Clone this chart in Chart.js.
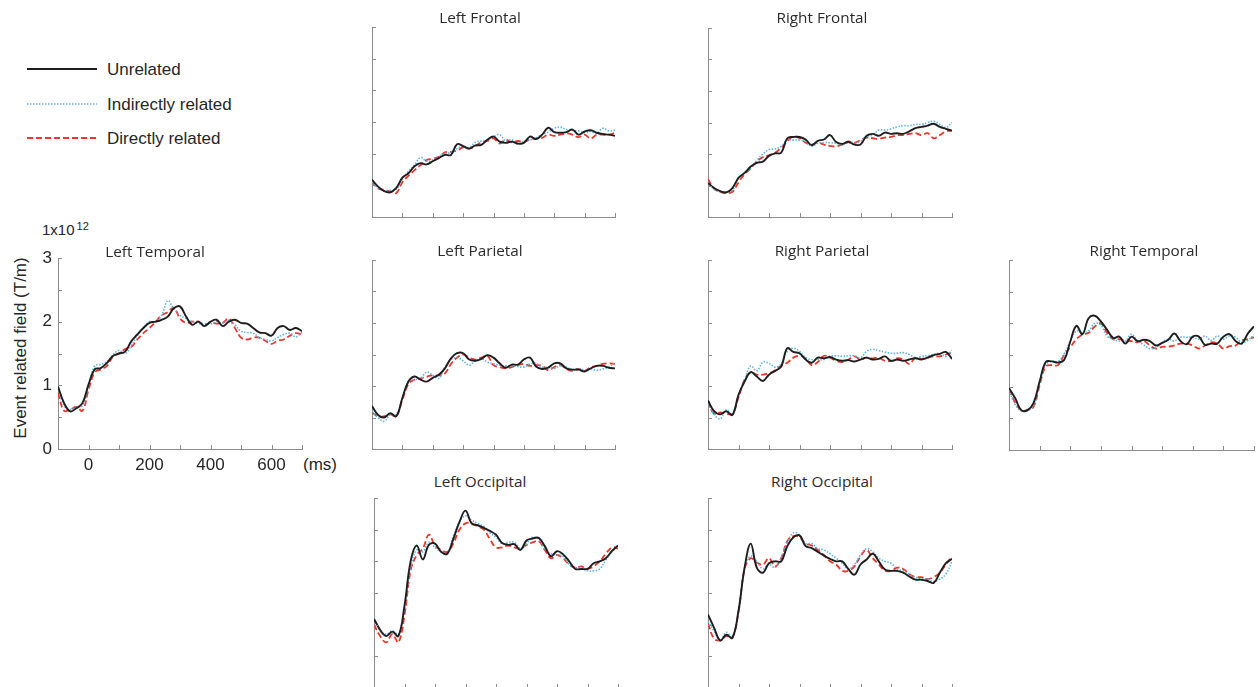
<!DOCTYPE html>
<html>
<head>
<meta charset="utf-8">
<title>Event related field by region</title>
<script src="https://cdn.jsdelivr.net/npm/chart.js@4.4.1/dist/chart.umd.min.js"></script>
<style>
  html, body { margin: 0; padding: 0; background: #fff; }
  body { position: relative; width: 1258px; height: 687px; overflow: hidden;
         font-family: "Liberation Sans", Arial, sans-serif; color: #262626; }
  canvas { position: absolute; }
  .txt { position: absolute; white-space: nowrap; line-height: 1; }
  .title { font-family: "Open Sans", sans-serif; font-size: 15.3px; color: #2b2b2b;
           transform: translate(-50%, -50%); }
  .legend-text { font-size: 17px; transform: translateY(-50%); }
  .legend-line { position: absolute; }
</style>
</head>
<body>
<div class="txt" style="left:42px;top:222px;font-size:15px">1x10<span style="font-size:11px;position:relative;top:-5px;margin-left:2px">12</span></div>
<div class="txt" style="left:20px;top:348px;font-size:17px;transform:translate(-50%,-50%) rotate(-90deg)">Event related field (T/m)</div>
<div class="txt" style="left:303px;top:456px;font-size:17px">(ms)</div>

<script>
// time axis (ms), shared by every panel
const timesMs = [-100, -80, -60, -40, -20, 0, 20, 40, 60, 80, 100, 120, 140, 160, 180, 200, 220, 240, 260, 280,
                 300, 320, 340, 360, 380, 400, 420, 440, 460, 480, 500, 520, 540, 560, 580, 600, 620, 640, 660, 680, 700];

const conditions = ['Unrelated', 'Indirectly related', 'Directly related'];
const xTickLabels = [0, 200, 400, 600];
const yTickLabels = [0, 1, 2, 3];

// values in 1x10^12 T/m
const leftFrontalUnrelated = [0.59,0.48,0.41,0.39,0.46,0.62,0.69,0.80,0.85,0.83,0.88,0.93,0.98,0.98,1.15,1.12,1.08,1.13,1.14,1.22,1.27,1.19,1.17,1.19,1.16,1.17,1.27,1.23,1.30,1.41,1.34,1.33,1.34,1.38,1.30,1.35,1.37,1.33,1.31,1.30,1.28];
const leftFrontalIndirect  = [0.56,0.46,0.41,0.42,0.44,0.60,0.72,0.82,0.94,0.88,0.90,0.96,1.00,1.02,1.08,1.12,1.10,1.18,1.20,1.22,1.27,1.30,1.20,1.22,1.15,1.20,1.22,1.25,1.30,1.34,1.40,1.42,1.38,1.37,1.36,1.33,1.35,1.32,1.40,1.36,1.37];
const leftFrontalDirect    = [0.56,0.45,0.43,0.40,0.38,0.55,0.65,0.74,0.82,0.90,0.92,0.95,1.02,1.03,1.05,1.10,1.08,1.12,1.18,1.20,1.24,1.16,1.22,1.18,1.20,1.19,1.22,1.24,1.25,1.30,1.28,1.30,1.32,1.30,1.26,1.30,1.24,1.30,1.30,1.30,1.33];

const rightFrontalUnrelated = [0.54,0.46,0.41,0.39,0.46,0.62,0.70,0.80,0.86,0.88,0.97,1.01,1.02,1.25,1.27,1.27,1.23,1.14,1.21,1.23,1.30,1.19,1.16,1.19,1.15,1.15,1.29,1.32,1.29,1.34,1.32,1.33,1.32,1.36,1.41,1.43,1.45,1.48,1.43,1.40,1.37];
const rightFrontalIndirect  = [0.55,0.44,0.40,0.40,0.42,0.62,0.70,0.78,0.90,1.00,1.07,1.08,1.12,1.22,1.22,1.22,1.20,1.12,1.17,1.18,1.18,1.17,1.15,1.18,1.17,1.20,1.28,1.30,1.38,1.38,1.40,1.43,1.45,1.45,1.47,1.47,1.50,1.52,1.47,1.42,1.50];
const rightFrontalDirect    = [0.60,0.45,0.40,0.38,0.40,0.55,0.68,0.77,0.88,0.95,0.98,1.02,1.10,1.20,1.28,1.25,1.18,1.15,1.18,1.15,1.13,1.12,1.15,1.20,1.18,1.22,1.26,1.25,1.24,1.26,1.27,1.30,1.30,1.32,1.33,1.30,1.33,1.25,1.30,1.36,1.37];

const leftTemporalUnrelated = [0.98,0.72,0.59,0.64,0.72,1.01,1.25,1.27,1.35,1.46,1.50,1.53,1.69,1.80,1.90,1.98,2.00,2.03,2.08,2.21,2.24,2.08,1.95,2.00,1.93,2.00,2.03,1.93,2.00,2.03,1.98,1.97,1.90,1.83,1.82,1.78,1.90,1.93,1.87,1.90,1.85];
const leftTemporalIndirect  = [0.98,0.68,0.62,0.66,0.68,1.00,1.30,1.33,1.37,1.48,1.55,1.50,1.62,1.78,1.90,2.00,2.00,2.10,2.33,2.20,2.10,2.05,2.00,1.97,1.97,1.96,2.00,1.98,2.02,1.95,1.85,1.83,1.82,1.75,1.72,1.70,1.75,1.80,1.82,1.76,1.83];
const leftTemporalDirect    = [0.88,0.60,0.62,0.66,0.60,0.93,1.20,1.25,1.30,1.45,1.50,1.57,1.60,1.72,1.82,1.90,2.00,2.10,2.15,2.22,2.05,1.98,2.00,2.00,1.95,1.98,1.97,1.98,2.05,1.90,1.75,1.72,1.75,1.75,1.70,1.65,1.70,1.72,1.78,1.82,1.80];

const leftParietalUnrelated = [0.68,0.54,0.50,0.57,0.52,0.81,1.07,1.15,1.10,1.07,1.13,1.18,1.28,1.44,1.52,1.52,1.42,1.40,1.43,1.49,1.45,1.36,1.29,1.34,1.34,1.42,1.45,1.31,1.27,1.29,1.36,1.36,1.28,1.26,1.26,1.23,1.28,1.32,1.32,1.29,1.28];
const leftParietalIndirect  = [0.60,0.50,0.44,0.55,0.55,0.80,1.08,1.10,1.12,1.22,1.17,1.12,1.30,1.42,1.45,1.40,1.33,1.40,1.43,1.38,1.35,1.33,1.32,1.32,1.31,1.30,1.35,1.36,1.30,1.30,1.28,1.32,1.30,1.25,1.28,1.25,1.27,1.25,1.27,1.30,1.38];
const leftParietalDirect    = [0.58,0.52,0.52,0.55,0.52,0.78,1.03,1.10,1.12,1.15,1.17,1.17,1.20,1.35,1.45,1.50,1.45,1.42,1.45,1.48,1.33,1.30,1.28,1.30,1.33,1.35,1.32,1.33,1.32,1.25,1.30,1.33,1.27,1.24,1.27,1.24,1.30,1.32,1.35,1.36,1.35];

const rightParietalUnrelated = [0.77,0.60,0.55,0.60,0.54,0.86,1.07,1.22,1.15,1.08,1.18,1.24,1.31,1.60,1.54,1.52,1.42,1.37,1.45,1.44,1.46,1.42,1.40,1.41,1.39,1.42,1.45,1.42,1.43,1.47,1.40,1.42,1.40,1.42,1.44,1.42,1.45,1.49,1.51,1.54,1.43];
const rightParietalIndirect  = [0.72,0.55,0.48,0.62,0.55,0.85,1.10,1.32,1.24,1.38,1.36,1.30,1.35,1.55,1.60,1.55,1.45,1.42,1.42,1.42,1.47,1.48,1.47,1.48,1.48,1.45,1.55,1.58,1.56,1.54,1.52,1.52,1.53,1.50,1.45,1.47,1.48,1.50,1.52,1.47,1.57];
const rightParietalDirect    = [0.75,0.56,0.58,0.56,0.56,0.82,1.10,1.22,1.18,1.18,1.20,1.25,1.32,1.37,1.45,1.48,1.44,1.33,1.38,1.48,1.45,1.40,1.38,1.42,1.47,1.42,1.45,1.44,1.45,1.40,1.40,1.44,1.42,1.35,1.45,1.43,1.45,1.47,1.47,1.50,1.53];

const rightTemporalUnrelated = [0.98,0.82,0.63,0.63,0.74,1.08,1.39,1.40,1.38,1.42,1.71,1.96,1.83,2.08,2.12,2.03,1.90,1.77,1.79,1.68,1.79,1.72,1.74,1.72,1.65,1.69,1.74,1.84,1.72,1.67,1.79,1.79,1.66,1.68,1.68,1.79,1.83,1.72,1.68,1.84,1.95];
const rightTemporalIndirect  = [0.95,0.72,0.62,0.62,0.70,1.05,1.35,1.40,1.40,1.52,1.72,1.88,1.85,1.88,2.00,1.97,1.80,1.75,1.72,1.72,1.83,1.72,1.66,1.60,1.62,1.70,1.75,1.72,1.78,1.78,1.78,1.75,1.80,1.73,1.80,1.75,1.80,1.78,1.70,1.73,1.82];
const rightTemporalDirect    = [0.96,0.75,0.63,0.63,0.68,1.02,1.32,1.34,1.34,1.50,1.62,1.75,1.82,1.85,1.95,2.00,1.85,1.75,1.75,1.73,1.72,1.70,1.72,1.65,1.60,1.63,1.63,1.65,1.68,1.68,1.65,1.60,1.65,1.70,1.68,1.60,1.64,1.65,1.73,1.75,1.78];

const leftOccipitalUnrelated = [1.09,0.92,0.82,0.89,0.82,1.30,2.00,2.25,2.03,2.26,2.28,2.15,2.12,2.35,2.62,2.80,2.60,2.57,2.53,2.48,2.42,2.29,2.26,2.27,2.18,2.33,2.36,2.37,2.24,2.08,2.16,2.11,2.00,1.88,1.88,1.88,1.97,2.00,2.05,2.16,2.25];
const leftOccipitalIndirect  = [1.12,0.90,0.85,0.90,0.85,1.25,1.90,2.18,2.15,2.30,2.22,2.15,2.12,2.40,2.62,2.72,2.65,2.60,2.55,2.45,2.38,2.28,2.30,2.30,2.20,2.28,2.38,2.35,2.20,2.12,2.10,2.08,1.95,1.90,1.90,1.85,1.85,1.88,2.02,2.15,2.25];
const leftOccipitalDirect    = [1.00,0.82,0.72,0.85,0.72,1.15,1.85,2.10,2.20,2.42,2.25,2.18,2.15,2.28,2.50,2.60,2.60,2.55,2.50,2.35,2.22,2.22,2.25,2.22,2.20,2.26,2.30,2.32,2.18,2.05,2.10,2.05,1.95,1.90,1.92,1.88,1.92,2.00,2.12,2.22,2.20];

const rightOccipitalUnrelated = [1.16,0.95,0.75,0.84,0.79,1.22,1.90,2.28,1.90,1.82,1.97,2.00,2.00,2.24,2.38,2.41,2.24,2.21,2.15,2.09,2.04,2.00,2.00,1.88,1.79,1.95,2.03,2.12,2.00,1.87,1.85,1.85,1.82,1.76,1.71,1.71,1.69,1.66,1.82,1.97,2.04];
const rightOccipitalIndirect  = [1.05,0.90,0.75,0.88,0.80,1.20,1.90,2.08,2.00,1.88,1.95,1.90,2.05,2.30,2.45,2.42,2.28,2.28,2.20,2.18,2.12,2.05,1.97,1.88,1.95,2.10,2.20,2.15,2.05,2.00,1.97,1.88,1.85,1.80,1.75,1.72,1.72,1.68,1.72,1.80,2.00];
const rightOccipitalDirect    = [1.02,0.78,0.75,0.82,0.80,1.20,1.88,2.05,1.98,1.95,2.05,1.92,2.05,2.32,2.40,2.38,2.28,2.25,2.18,2.10,2.00,1.95,1.85,1.85,1.92,2.08,2.18,2.05,1.95,1.85,1.85,1.90,1.88,1.80,1.75,1.75,1.72,1.75,1.82,1.95,2.08];

// line look for each condition (same order as conditions)
const lineStyles = [
  { color: '#1e1e1e', width: 1.9, dash: [] },
  { color: '#62b2e2', width: 1.6, dash: [1.5, 1.5] },
  { color: '#e8382c', width: 1.8, dash: [6, 3] }
];
const axisColor = '#8c8c8c';
const tickLen = 4;

// plot area boxes in page pixels
const panels = [
  { title: 'Left Frontal',    box: [372, 27, 243, 190],  titleAt: [480, 18],    series: [leftFrontalUnrelated, leftFrontalIndirect, leftFrontalDirect] },
  { title: 'Right Frontal',   box: [708, 28, 244, 189],  titleAt: [822, 18],    series: [rightFrontalUnrelated, rightFrontalIndirect, rightFrontalDirect] },
  { title: 'Left Temporal',   box: [58, 258, 244, 191],  titleAt: [155, 252],   series: [leftTemporalUnrelated, leftTemporalIndirect, leftTemporalDirect], labelled: true },
  { title: 'Left Parietal',   box: [372, 260, 243, 189], titleAt: [480, 251],   series: [leftParietalUnrelated, leftParietalIndirect, leftParietalDirect] },
  { title: 'Right Parietal',  box: [708, 260, 244, 189], titleAt: [822, 251],   series: [rightParietalUnrelated, rightParietalIndirect, rightParietalDirect] },
  { title: 'Right Temporal',  box: [1009, 260, 245, 190], titleAt: [1144, 251], series: [rightTemporalUnrelated, rightTemporalIndirect, rightTemporalDirect] },
  { title: 'Left Occipital',  box: [374, 498, 244, 190], titleAt: [480, 482],   series: [leftOccipitalUnrelated, leftOccipitalIndirect, leftOccipitalDirect] },
  { title: 'Right Occipital', box: [708, 498, 244, 190], titleAt: [822, 482],   series: [rightOccipitalUnrelated, rightOccipitalIndirect, rightOccipitalDirect] }
];

// MATLAB style ticks pointing into the plot
const inwardTicks = {
  id: 'inwardTicks',
  afterDraw(chart) {
    const { ctx, chartArea, scales } = chart;
    ctx.save();
    ctx.strokeStyle = axisColor;
    ctx.lineWidth = 1;
    ctx.beginPath();
    scales.x.ticks.forEach(t => {
      const px = Math.round(scales.x.getPixelForValue(t.value)) + 0.5;
      ctx.moveTo(px, chartArea.bottom);
      ctx.lineTo(px, chartArea.bottom - tickLen);
    });
    scales.y.ticks.forEach(t => {
      const py = Math.round(scales.y.getPixelForValue(t.value)) + 0.5;
      ctx.moveTo(chartArea.left, py);
      ctx.lineTo(chartArea.left + tickLen, py);
    });
    ctx.stroke();
    ctx.restore();
  }
};

function addText(cls, text, left, top) {
  const d = document.createElement('div');
  d.className = 'txt ' + cls;
  d.textContent = text;
  d.style.left = left + 'px';
  d.style.top = top + 'px';
  document.body.appendChild(d);
  return d;
}

function makePanel(p) {
  const [left, top, w, h] = p.box;
  const canvas = document.createElement('canvas');
  let cLeft, cTop, cW, cH, padding, yWidth, xHeight;
  if (p.labelled) {
    cLeft = 0; cTop = top - 18; cW = left + w + 18; cH = 18 + h + 36;
    padding = { top: 18, right: 18, left: 0, bottom: 0 };
    yWidth = left; xHeight = 36;
  } else {
    cLeft = left - 6; cTop = top - 6; cW = w + 12; cH = h + 12;
    padding = 6;
    yWidth = 0; xHeight = 0;
  }
  canvas.width = cW; canvas.height = cH;
  canvas.style.left = cLeft + 'px';
  canvas.style.top = cTop + 'px';
  document.body.appendChild(canvas);

  const tickFont = { family: 'Liberation Sans', size: 17 };

  new Chart(canvas.getContext('2d'), {
    type: 'line',
    data: {
      datasets: p.series.map((vals, i) => ({
        label: conditions[i],
        data: timesMs.map((t, j) => ({ x: t, y: vals[j] })),
        borderColor: lineStyles[i].color,
        borderWidth: lineStyles[i].width,
        borderDash: lineStyles[i].dash,
        pointRadius: 0,
        tension: 0.4,
        fill: false
      }))
    },
    options: {
      responsive: false,
      animation: false,
      layout: { padding: padding },
      plugins: { legend: { display: false }, tooltip: { enabled: false } },
      scales: {
        x: {
          type: 'linear', min: -100, max: 700,
          grid: { display: false, drawTicks: false },
          border: { display: true, color: axisColor, width: 1 },
          ticks: {
            display: !!p.labelled, stepSize: 100, autoSkip: false, maxRotation: 0,
            padding: 6, color: '#262626', font: tickFont,
            callback: v => xTickLabels.includes(v) ? String(v) : ''
          },
          afterFit: s => { s.height = xHeight; }
        },
        y: {
          min: 0, max: 3,
          grid: { display: false, drawTicks: false },
          border: { display: true, color: axisColor, width: 1 },
          ticks: {
            display: !!p.labelled, stepSize: 0.5, autoSkip: false,
            padding: 6, color: '#262626', font: tickFont,
            callback: v => yTickLabels.includes(v) ? String(v) : ''
          },
          afterFit: s => { s.width = yWidth; }
        }
      }
    },
    plugins: [inwardTicks]
  });

  addText('title', p.title, p.titleAt[0], p.titleAt[1]);
}

panels.forEach(makePanel);

// legend
const legendY = [69, 103.5, 138];
conditions.forEach((name, i) => {
  const st = lineStyles[i];
  const svgNS = 'http://www.w3.org/2000/svg';
  const svg = document.createElementNS(svgNS, 'svg');
  svg.setAttribute('width', 72);
  svg.setAttribute('height', 10);
  svg.setAttribute('class', 'legend-line');
  svg.style.left = '26px';
  svg.style.top = (legendY[i] - 5) + 'px';
  const line = document.createElementNS(svgNS, 'line');
  line.setAttribute('x1', 1); line.setAttribute('x2', 71);
  line.setAttribute('y1', 5); line.setAttribute('y2', 5);
  line.setAttribute('stroke', st.color);
  line.setAttribute('stroke-width', st.width);
  if (st.dash.length) line.setAttribute('stroke-dasharray', st.dash.join(' '));
  svg.appendChild(line);
  document.body.appendChild(svg);
  addText('legend-text', name, 107, legendY[i]);
});
</script>
</body>
</html>
